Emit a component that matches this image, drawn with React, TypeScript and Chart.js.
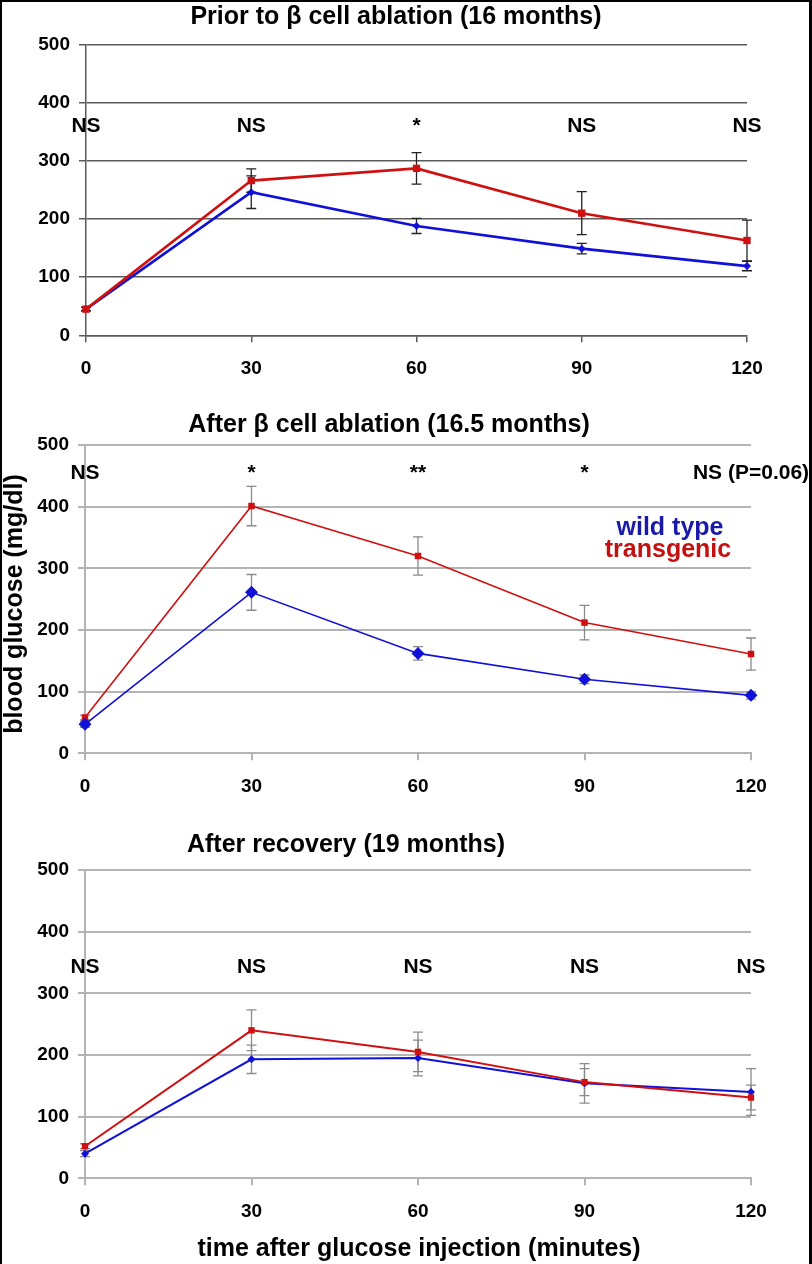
import React, { useEffect, useRef } from "react";
import { Chart, registerables } from "chart.js";

Chart.register(...registerables);

// ---------- data ----------
const minutes = [0, 30, 60, 90, 120];
const glucoseTicks = [0, 100, 200, 300, 400, 500];

// Panel 1: Prior to beta cell ablation (16 months)
const p1Wild = [45, 246, 188, 149, 119];
const p1WildErr = [3, 28, 13, 9, 8];
const p1Trans = [45, 266, 287, 210, 163];
const p1TransErr = [3, 20, 27, 37, 35];
const p1Sig = ["NS", "NS", "*", "NS", "NS"];

// Panel 2: After beta cell ablation (16.5 months)
const p2Wild = [47, 261, 162, 120, 94];
const p2WildErr = [5, 29, 11, 7, 6];
const p2Trans = [58, 401, 320, 212, 161];
const p2TransErr = [4, 32, 31, 28, 26];
const p2Sig = ["NS", "*", "**", "*", "NS (P=0.06)"];

// Panel 3: After recovery (19 months)
const p3Wild = [40, 193, 195, 154, 140];
const p3WildErr = [5, 23, 29, 32, 38];
const p3Trans = [52, 240, 205, 156, 131];
const p3TransErr = [4, 33, 32, 22, 20];
const p3Sig = ["NS", "NS", "NS", "NS", "NS"];

const FONT = "'Liberation Sans', Arial, Helvetica, sans-serif";

const errorBarsPlugin = {
  id: "errBars",
  beforeDatasetsDraw(chart: any, _args: any, opts: any) {
    const { ctx } = chart;
    const xs = chart.scales.x;
    const ys = chart.scales.y;
    ctx.save();
    ctx.strokeStyle = opts.color;
    ctx.lineWidth = opts.width;
    chart.data.datasets.forEach((ds: any) => {
      const errs = ds.errors;
      if (!errs) return;
      ds.data.forEach((pt: any, i: number) => {
        const x = xs.getPixelForValue(pt.x);
        const y1 = ys.getPixelForValue(pt.y + errs[i]);
        const y2 = ys.getPixelForValue(pt.y - errs[i]);
        ctx.beginPath();
        ctx.moveTo(x, y1);
        ctx.lineTo(x, y2);
        ctx.moveTo(x - opts.cap, y1);
        ctx.lineTo(x + opts.cap, y1);
        ctx.moveTo(x - opts.cap, y2);
        ctx.lineTo(x + opts.cap, y2);
        ctx.stroke();
      });
    });
    ctx.restore();
  },
};

const textPlugin = {
  id: "texts",
  afterDraw(chart: any, _args: any, opts: any) {
    const { ctx } = chart;
    const xs = chart.scales.x;
    const ys = chart.scales.y;
    ctx.save();
    ctx.textAlign = "center";
    ctx.textBaseline = "middle";
    ctx.fillStyle = "#000";
    ctx.font = `bold ${opts.sigSize}px ${FONT}`;
    opts.sig.forEach((s: string, i: number) => {
      ctx.fillText(s, xs.getPixelForValue(minutes[i]), ys.getPixelForValue(opts.sigLevel));
    });
    (opts.items || []).forEach((it: any) => {
      ctx.save();
      ctx.fillStyle = it.color || "#000";
      ctx.font = `bold ${it.size}px ${FONT}`;
      ctx.translate(it.x, it.y);
      if (it.rotate) ctx.rotate(it.rotate);
      ctx.fillText(it.text, 0, 0);
      ctx.restore();
    });
    ctx.restore();
  },
};

type PanelCfg = {
  top: number;
  height: number;
  areaTop: number;
  areaBottom: number;
  areaLeft: number;
  areaRight: number;
  wild: number[];
  wildErr: number[];
  trans: number[];
  transErr: number[];
  sig: string[];
  sigLevel: number;
  wildOnTop: boolean;
  lineWidth: number;
  wildRadius: number;
  transRadius: number;
  gridColor: string;
  gridWidth: number;
  errColor: string;
  items: any[];
};

function Panel(cfg: PanelCfg) {
  const ref = useRef<HTMLCanvasElement | null>(null);
  useEffect(() => {
    if (!ref.current) return;
    const W = 812;
    const xAxisH = 44;
    const blue = "#1010d8";
    const red = "#d01010";
    const toPts = (arr: number[]) => arr.map((v, i) => ({ x: minutes[i], y: v }));
    const tickFont = { family: FONT, size: 19, weight: "bold" as const };
    const chart = new Chart(ref.current, {
      type: "line",
      data: {
        datasets: [
          {
            label: "wild type",
            data: toPts(cfg.wild),
            errors: cfg.wildErr,
            borderColor: blue,
            backgroundColor: blue,
            borderWidth: cfg.lineWidth,
            pointStyle: "rectRot",
            pointRadius: cfg.wildRadius,
            pointBorderWidth: 0,
            tension: 0,
            clip: false,
            order: cfg.wildOnTop ? 0 : 1,
          } as any,
          {
            label: "transgenic",
            data: toPts(cfg.trans),
            errors: cfg.transErr,
            borderColor: red,
            backgroundColor: red,
            borderWidth: cfg.lineWidth,
            pointStyle: "rect",
            pointRadius: cfg.transRadius,
            pointBorderWidth: 0,
            tension: 0,
            clip: false,
            order: cfg.wildOnTop ? 1 : 0,
          } as any,
        ],
      },
      options: {
        animation: false,
        responsive: false,
        maintainAspectRatio: false,
        layout: {
          padding: {
            top: cfg.areaTop,
            left: 0,
            right: W - cfg.areaRight,
            bottom: cfg.height - cfg.areaBottom - xAxisH,
          },
        },
        plugins: {
          legend: { display: false },
          tooltip: { enabled: false },
          title: { display: false },
          errBars: { color: cfg.errColor, width: 1.3, cap: 5 },
          texts: { sig: cfg.sig, sigLevel: cfg.sigLevel, sigSize: 21, items: cfg.items },
        } as any,
        scales: {
          x: {
            type: "linear",
            min: 0,
            max: 120,
            afterBuildTicks: (s: any) => {
              s.ticks = minutes.map((v) => ({ value: v }));
            },
            afterFit: (s: any) => {
              s.height = xAxisH;
            },
            ticks: {
              font: tickFont,
              color: "#000",
              padding: 15,
              maxRotation: 0,
              autoSkip: false,
            },
            grid: {
              drawOnChartArea: false,
              drawTicks: true,
              tickLength: 7,
              color: cfg.gridColor,
              lineWidth: cfg.gridWidth,
            },
            border: { display: true, color: cfg.gridColor, width: cfg.gridWidth },
          },
          y: {
            min: 0,
            max: 500,
            afterBuildTicks: (s: any) => {
              s.ticks = glucoseTicks.map((v) => ({ value: v }));
            },
            afterFit: (s: any) => {
              s.width = cfg.areaLeft;
            },
            ticks: { font: tickFont, color: "#000", padding: 9 },
            grid: {
              drawTicks: true,
              tickLength: 7,
              color: cfg.gridColor,
              lineWidth: cfg.gridWidth,
            },
            border: { display: true, color: cfg.gridColor, width: cfg.gridWidth },
          },
        },
      },
      plugins: [errorBarsPlugin, textPlugin],
    } as any);
    return () => chart.destroy();
  }, []);
  return (
    <canvas
      ref={ref}
      width={812}
      height={cfg.height}
      style={{ position: "absolute", left: 0, top: cfg.top, width: 812, height: cfg.height }}
    />
  );
}

export default function App() {
  return (
    <div
      style={{
        position: "absolute",
        left: 0,
        top: 0,
        width: 812,
        height: 1264,
        background: "#fff",
        overflow: "hidden",
      }}
    >
      <Panel
        top={0}
        height={395}
        areaTop={44.5}
        areaBottom={335.3}
        areaLeft={86}
        areaRight={747}
        wild={p1Wild}
        wildErr={p1WildErr}
        trans={p1Trans}
        transErr={p1TransErr}
        sig={p1Sig}
        sigLevel={360}
        wildOnTop={false}
        lineWidth={2.6}
        wildRadius={4}
        transRadius={5.2}
        gridColor="#5a5a5a"
        gridWidth={1.5}
        errColor="#222"
        items={[{ text: "Prior to β cell ablation (16 months)", x: 396, y: 17, size: 25 }]}
      />
      <Panel
        top={395}
        height={420}
        areaTop={50}
        areaBottom={358.3}
        areaLeft={85}
        areaRight={751}
        wild={p2Wild}
        wildErr={p2WildErr}
        trans={p2Trans}
        transErr={p2TransErr}
        sig={p2Sig}
        sigLevel={454}
        wildOnTop={true}
        lineWidth={1.6}
        wildRadius={6.5}
        transRadius={4.6}
        gridColor="#b4b4b4"
        gridWidth={2}
        errColor="#8a8a8a"
        items={[
          { text: "After β cell ablation (16.5 months)", x: 389, y: 30, size: 25 },
          { text: "wild type", x: 670, y: 133, size: 25, color: "#1a1aa8" },
          { text: "transgenic", x: 668, y: 155, size: 25, color: "#c41010" },
          { text: "blood glucose (mg/dl)", x: 15, y: 209, size: 25, rotate: -Math.PI / 2 },
        ]}
      />
      <Panel
        top={815}
        height={449}
        areaTop={55}
        areaBottom={363.3}
        areaLeft={85}
        areaRight={751}
        wild={p3Wild}
        wildErr={p3WildErr}
        trans={p3Trans}
        transErr={p3TransErr}
        sig={p3Sig}
        sigLevel={343}
        wildOnTop={false}
        lineWidth={2}
        wildRadius={4}
        transRadius={4.5}
        gridColor="#b4b4b4"
        gridWidth={2}
        errColor="#8a8a8a"
        items={[
          { text: "After recovery (19 months)", x: 346, y: 30, size: 25 },
          { text: "time after glucose injection (minutes)", x: 419, y: 434, size: 25 },
        ]}
      />
      <div
        style={{
          position: "absolute",
          left: 0,
          top: 0,
          width: 812,
          height: 1264,
          boxSizing: "border-box",
          borderTop: "2px solid #000",
          borderLeft: "2px solid #000",
          borderRight: "3px solid #000",
          pointerEvents: "none",
        }}
      />
    </div>
  );
}
